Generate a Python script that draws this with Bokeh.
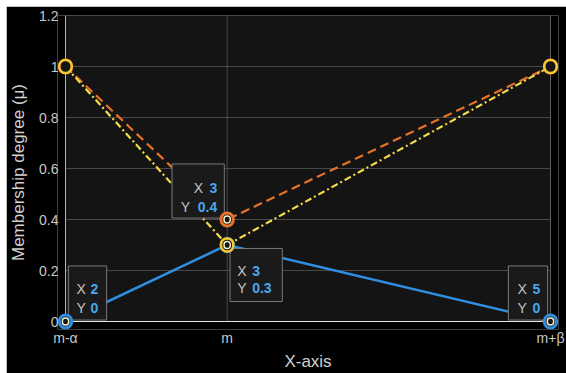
from bokeh.plotting import figure
from bokeh.models import Label, FixedTicker, Range1d
from bokeh.embed import file_html
from bokeh.resources import INLINE

# ---- data ----
x_vals = [2, 3, 5]
mu_blue = [0, 0.3, 0]
mu_orange = [1, 0.4, 1]
mu_yellow = [1, 0.3, 1]
x_tick_labels = ["m-α", "m", "m+β"]
y_ticks = [0, 0.2, 0.4, 0.6, 0.8, 1.0, 1.2]
y_tick_labels = ["0", "0.2", "0.4", "0.6", "0.8", "1", "1.2"]

FONT = "Liberation Sans"
BLUE = "#2f8ee0"
ORANGE = "#e8722a"
YELLOW = "#f4dc4a"
RING_Y = "#f5c832"
TIP_BLUE = "#4aa6ee"
TIP_GRAY = "#c4c4c4"
CREAM = "#f6efcf"
PANEL = "#141414"
GRID = "#484848"

# layout (pixels): the axes panel, plus an extra strip on left/right/bottom so that
# the end markers are not clipped by the frame
PANEL_W, PANEL_H, EXTRA = 485, 306, 8
x0, x1 = x_vals[0], x_vals[-1]
y0, y1 = y_ticks[0], y_ticks[-1]
px_x = (x1 - x0) / PANEL_W
px_y = (y1 - y0) / PANEL_H

p = figure(frame_width=PANEL_W + 2 * EXTRA, frame_height=PANEL_H + EXTRA,
           output_backend="svg", toolbar_location=None,
           x_range=Range1d(x0 - EXTRA * px_x, x1 + EXTRA * px_x),
           y_range=Range1d(y0 - EXTRA * px_y, y1),
           min_border_left=49, min_border_right=10, min_border_top=9, min_border_bottom=41)
p.margin = (6, 0, 0, 6)
p.background_fill_color = "black"
p.border_fill_color = "black"
p.outline_line_color = None
p.xgrid.visible = False
p.ygrid.visible = False

for ax in (p.xaxis[0], p.yaxis[0]):
    ax.major_label_text_font = FONT
    ax.major_label_text_font_size = "14px"
    ax.major_label_text_color = "#c8c8c8"
    ax.axis_label_text_font = FONT
    ax.axis_label_text_font_size = "17px"
    ax.axis_label_text_font_style = "normal"
    ax.axis_label_text_color = "#d0d0d0"
    ax.axis_line_color = None
    ax.major_tick_line_color = None
    ax.minor_tick_line_color = None
    ax.major_tick_in = 0
    ax.major_tick_out = 0

p.xaxis.ticker = FixedTicker(ticks=x_vals)
p.xaxis.major_label_overrides = {x: lab for x, lab in zip(x_vals, x_tick_labels)}
p.xaxis.axis_label = "X-axis"
p.xaxis.major_label_standoff = 0
p.xaxis.axis_label_standoff = 3

p.yaxis.ticker = FixedTicker(ticks=y_ticks)
p.yaxis.major_label_overrides = {t: lab for t, lab in zip(y_ticks, y_tick_labels)}
p.yaxis.axis_label = "Membership degree (μ)"
p.yaxis.major_label_standoff = -1
p.yaxis.axis_label_standoff = 8

# ---- axes panel, grid and axis lines ----
p.quad(left=[x0], right=[x1], bottom=[y0], top=[y1], fill_color=PANEL,
       line_color="#5e5e5e", line_width=1)
p.segment(x0=[x0] * len(y_ticks), y0=y_ticks, x1=[x1] * len(y_ticks), y1=y_ticks,
          line_color=GRID, line_width=1)
p.segment(x0=[x_vals[1]], y0=[y0], x1=[x_vals[1]], y1=[y1], line_color=GRID, line_width=1)
p.segment(x0=[x0], y0=[y0], x1=[x0], y1=[y1], line_color="#b4b4b4", line_width=1)
p.segment(x0=[x0], y0=[y0], x1=[x1], y1=[y0], line_color="#e6e6e6", line_width=1)

# ---- lines ----
p.line(x_vals, mu_blue, line_color=BLUE, line_width=2.5)
p.line(x_vals, mu_orange, line_color=ORANGE, line_width=2.2, line_dash="9 5")
p.line(x_vals, mu_yellow, line_color=YELLOW, line_width=2.2, line_dash="7 3 2 3")

# data tip points
tip_x = [x_vals[1], x_vals[1], x_vals[0], x_vals[2]]
tip_y = [mu_orange[1], mu_yellow[1], mu_blue[0], mu_blue[2]]

# tip layouts: box centre offset (screen px, y down), box w, h,
# rows: (label_x, label_align, value_x, value_align, baseline_y)
layouts = [
    dict(bx=-29, by=-28.5, w=52, h=53,
         rows=[(-24, "right", -10, "right", -32), (-37, "right", -10, "right", -13)]),
    dict(bx=29, by=30, w=52, h=52,
         rows=[(10, "left", 25, "left", 26), (10, "left", 25, "left", 43)]),
    dict(bx=22, by=-28.5, w=38, h=53,
         rows=[(11, "left", 25, "left", -33), (11, "left", 25, "left", -14)]),
    dict(bx=-22.5, by=-28.5, w=39, h=53,
         rows=[(-33, "left", -18, "left", -33), (-33, "left", -18, "left", -14)]),
]


def fmt(v):
    return "%g" % v


for tx, ty, lay in zip(tip_x, tip_y, layouts):
    hw, hh = lay["w"] // 2, lay["h"] // 2
    box = Label(x=tx, y=ty, x_offset=lay["bx"], y_offset=-lay["by"], text=" ",
                text_font_size="1px", text_align="center", text_baseline="middle",
                background_fill_color="#1a1a1a", border_line_color="#7a7a7a",
                border_line_width=1,
                padding=dict(left=hw, right=lay["w"] - hw, top=hh, bottom=lay["h"] - hh))
    p.add_layout(box)
    for (lx, la, vx, va, yy), name, val in zip(lay["rows"], ["X", "Y"], [tx, ty]):
        p.add_layout(Label(x=tx, y=ty, x_offset=lx, y_offset=-yy, text=name,
                           text_font=FONT, text_font_size="14px", text_color=TIP_GRAY,
                           text_align=la, text_baseline="alphabetic"))
        p.add_layout(Label(x=tx, y=ty, x_offset=vx, y_offset=-yy, text=fmt(val),
                           text_font=FONT, text_font_size="14px", text_color=TIP_BLUE,
                           text_font_style="bold",
                           text_align=va, text_baseline="alphabetic"))


# ---- markers (round annotations, drawn above the data tips) ----
def ring(x, y, color, r, lw, fill=PANEL):
    p.add_layout(Label(x=x, y=y, text=" ", text_font_size="1px",
                       text_align="center", text_baseline="middle",
                       background_fill_color=fill, border_line_color=color,
                       border_line_width=lw, border_radius=r,
                       padding=r))


for xs, ys, col, lw in [(x_vals, mu_blue, BLUE, 3), (x_vals, mu_orange, ORANGE, 3),
                        (x_vals, mu_yellow, RING_Y, 2.5)]:
    for x, y in zip(xs, ys):
        ring(x, y, col, 6, lw)

for x, y in zip(tip_x, tip_y):
    ring(x, y, CREAM, 3, 1.5)

open("out.html", "w").write(file_html(p, INLINE))
